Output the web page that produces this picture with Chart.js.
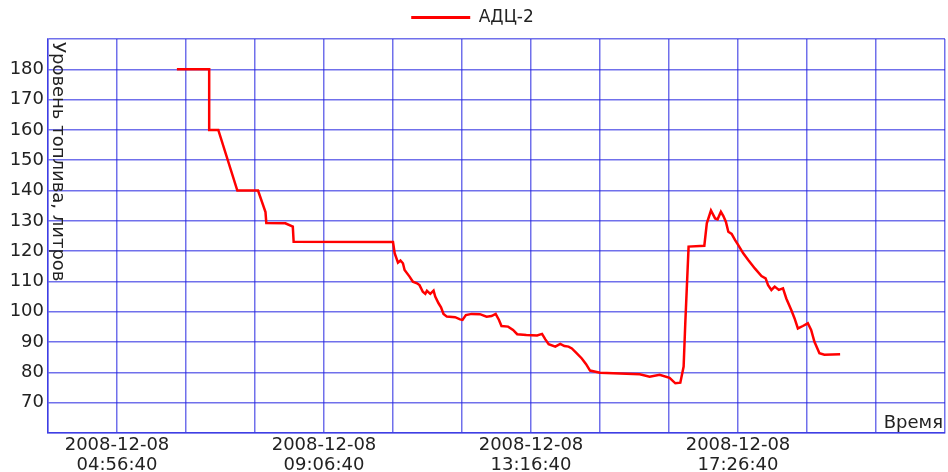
<!DOCTYPE html>
<html>
<head>
<meta charset="utf-8">
<script src="https://cdn.jsdelivr.net/npm/chart.js@4.4.1/dist/chart.umd.min.js"></script>
<style>
  html, body { margin: 0; padding: 0; background: #fff; }
  canvas { display: block; }
</style>
</head>
<body>
<canvas id="c" width="948" height="472"></canvas>
<script>
// Fuel sensor АДЦ-2, readings on 2008-12-08 (local time)
const seriesName = 'АДЦ-2';
const readingTimes = [
  '06:09', '06:48', '06:48', '06:59', '07:22', '07:47', '07:56', '07:57', '08:20', '08:29',
  '08:30', '10:30', '10:32', '10:36', '10:39', '10:42', '10:44', '10:50', '10:54', '10:59',
  '11:02', '11:06', '11:09', '11:11', '11:15', '11:19', '11:21', '11:25', '11:28', '11:31',
  '11:35', '11:45', '11:51', '11:54', '11:58', '12:05', '12:15', '12:23', '12:29', '12:34',
  '12:38', '12:41', '12:49', '12:55', '13:00', '13:11', '13:24', '13:30', '13:34', '13:38',
  '13:46', '13:52', '13:57', '14:02', '14:06', '14:12', '14:18', '14:23', '14:28', '14:40',
  '14:56', '15:20', '15:28', '15:40', '15:52', '16:04', '16:11', '16:17', '16:21', '16:23',
  '16:27', '16:46', '16:49', '16:54', '16:59', '17:02', '17:06', '17:09', '17:12', '17:15',
  '17:19', '17:23', '17:27', '17:33', '17:39', '17:47', '17:55', '18:00', '18:03', '18:07',
  '18:11', '18:16', '18:21', '18:25', '18:31', '18:35', '18:39', '18:45', '18:51', '18:55',
  '18:59', '19:05', '19:11', '19:30'
];
const fuelLevels = [
  180, 180, 160, 160, 140, 140, 132.9, 129.3, 129.2, 128.1,
  123.1, 123.0, 119.3, 116.2, 116.9, 116.0, 113.8, 111.6, 109.9, 109.4,
  108.8, 106.6, 105.9, 106.9, 105.9, 107.0, 105.0, 102.8, 101.5, 99.3,
  98.4, 98.2, 97.5, 97.3, 98.9, 99.3, 99.2, 98.4, 98.6, 99.3,
  97.3, 95.3, 95.1, 94.0, 92.6, 92.3, 92.2, 92.7, 90.9, 89.3,
  88.5, 89.4, 88.7, 88.5, 87.9, 86.3, 84.6, 82.8, 80.6, 79.9,
  79.7, 79.5, 79.4, 78.6, 79.2, 78.2, 76.4, 76.6, 81.9, 96.2,
  121.5, 121.8, 129.2, 133.4, 130.8, 130.5, 133.0, 131.6, 129.7, 126.4,
  125.7, 123.7, 122.0, 119.3, 117.1, 114.3, 111.8, 111.0, 108.8, 107.2,
  108.3, 107.2, 107.7, 104.4, 100.6, 97.8, 94.5, 95.3, 96.2, 94.0,
  90.1, 86.3, 85.8, 86.0
];

// Axis ticks
const tickDate = '2008-12-08';
const tickTimes = ['04:56:40', '09:06:40', '13:16:40', '17:26:40'];
const axisStart = '03:33:20';
const axisEnd = '21:36:40';
const gridStepSec = 5000;
const yTicks = [60, 70, 80, 90, 100, 110, 120, 130, 140, 150, 160, 170, 180, 190];
const yLabeled = [70, 80, 90, 100, 110, 120, 130, 140, 150, 160, 170, 180];

const yTitle = 'Уровень топлива, литров';
const xTitle = 'Время';

function toSec(hms) {
  const p = hms.split(':').map(Number);
  return p[0] * 3600 + p[1] * 60 + (p[2] || 0);
}

const points = readingTimes.map((t, i) => ({ x: toSec(t), y: fuelLevels[i] }));
const tickSecs = tickTimes.map(toSec);
const xMin = toSec(axisStart);
const xMax = toSec(axisEnd);

const FONT = '"DejaVu Sans", sans-serif';
const TEXT = '#222';
const GRID = 'rgba(35, 35, 225, 0.65)';
const LEGEND_HEIGHT = 39;

// keeps the legend band at a fixed height
const legendBand = {
  id: 'legendBand',
  beforeLayout(chart) {
    const lg = chart.legend;
    if (lg && !lg._fixedBand) {
      const fit = lg.fit.bind(lg);
      lg.fit = function () { fit(); this.height = LEGEND_HEIGHT; };
      lg._fixedBand = true;
    }
  }
};

const axisTitles = {
  id: 'axisTitles',
  afterDraw(chart) {
    const { ctx, chartArea: a } = chart;
    ctx.save();
    ctx.font = '18px ' + FONT;
    ctx.fillStyle = TEXT;
    // vertical title, reading top to bottom
    ctx.save();
    ctx.translate(a.left + 5, a.top + 3);
    ctx.rotate(Math.PI / 2);
    ctx.textAlign = 'left';
    ctx.textBaseline = 'alphabetic';
    ctx.fillText(yTitle, 0, 0);
    ctx.restore();
    // horizontal title in the lower right corner
    ctx.textAlign = 'right';
    ctx.textBaseline = 'alphabetic';
    ctx.fillText(xTitle, a.right - 2, a.bottom - 5);
    ctx.restore();
  }
};

new Chart(document.getElementById('c'), {
  type: 'line',
  data: {
    datasets: [{
      label: seriesName,
      data: points,
      borderColor: '#ff0000',
      backgroundColor: '#ff0000',
      borderWidth: 2.5,
      pointRadius: 0,
      tension: 0,
      fill: false
    }]
  },
  options: {
    responsive: false,
    animation: false,
    devicePixelRatio: 1,
    parsing: false,
    layout: { padding: { left: 0, right: 3, top: 0, bottom: 0 } },
    plugins: {
      tooltip: { enabled: false },
      legend: {
        position: 'top',
        labels: {
          font: { family: FONT, size: 17 },
          color: TEXT,
          boxWidth: 59,
          boxHeight: 3,
          padding: 9,
          generateLabels: () => [{
            text: seriesName,
            fillStyle: '#ff0000',
            strokeStyle: '#ff0000',
            lineWidth: 0,
            hidden: false,
            datasetIndex: 0,
            fontColor: TEXT
          }]
        }
      }
    },
    scales: {
      x: {
        type: 'linear',
        min: xMin,
        max: xMax,
        afterFit: (s) => { s.height = 39; },
        afterBuildTicks: (s) => {
          const t = [];
          for (let v = xMin; v <= xMax; v += gridStepSec) t.push({ value: v });
          s.ticks = t;
        },
        ticks: {
          autoSkip: false,
          maxRotation: 0,
          padding: 2,
          color: TEXT,
          font: { family: FONT, size: 18, lineHeight: 1.11 },
          callback: (v) => tickSecs.includes(v) ? [tickDate, tickTimes[tickSecs.indexOf(v)]] : ''
        },
        grid: { color: GRID, lineWidth: 1.5, drawTicks: false },
        border: { color: GRID, width: 1.5 }
      },
      y: {
        min: 60,
        max: 190,
        afterFit: (s) => { s.width = 48; },
        afterBuildTicks: (s) => { s.ticks = yTicks.map(v => ({ value: v })); },
        ticks: {
          padding: 4,
          color: TEXT,
          font: { family: FONT, size: 18 },
          callback: (v) => yLabeled.includes(v) ? String(v) : ''
        },
        grid: { color: GRID, lineWidth: 1.5, drawTicks: false },
        border: { color: GRID, width: 1.5 }
      }
    }
  },
  plugins: [legendBand, axisTitles]
});
</script>
</body>
</html>
